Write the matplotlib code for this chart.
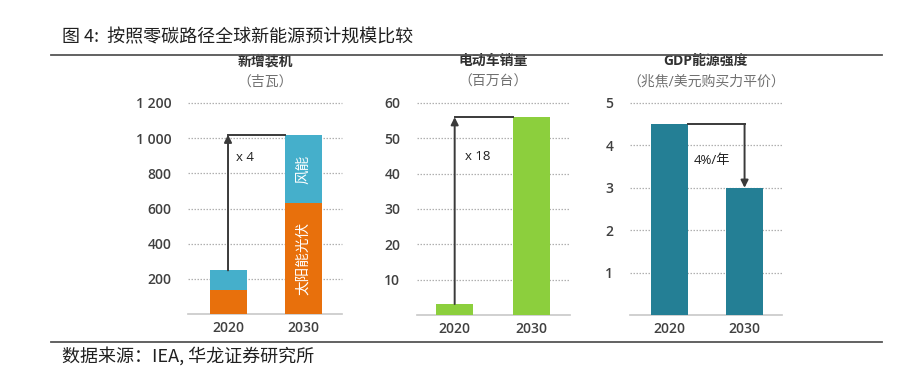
import matplotlib
matplotlib.use("Agg")
import matplotlib.pyplot as plt
from matplotlib.lines import Line2D

plt.rcParams['font.family'] = ['Open Sans', 'Noto Sans CJK SC', 'DejaVu Sans']

# data
years = ['2020', '2030']
solar = [135, 630]
wind = [113, 390]
ev_sales = [3.1, 56]
gdp_intensity = [4.5, 3.0]

cap_ticks = [200, 400, 600, 800, 1000, 1200]
cap_labels = ['200', '400', '600', '800', '1 000', '1 200']
ev_ticks = [10, 20, 30, 40, 50, 60]
gdp_ticks = [1, 2, 3, 4, 5]

ORANGE = '#E8700C'
BLUE = '#45AFCB'
GREEN = '#8CCF3D'
TEAL = '#247F95'
TXT = '#404040'
ARROW = '#3a3a3a'

W, H = 917, 372
fig = plt.figure(figsize=(W / 100, H / 100), dpi=100)


def px_axes(x0, x1, y_top, y_base):
    return fig.add_axes([x0 / W, (H - y_base) / H, (x1 - x0) / W, (y_base - y_top) / H])


def style(ax, ticks, labels, top, xlim):
    ax.set_ylim(0, top)
    ax.set_xlim(*xlim)
    for s in ax.spines.values():
        s.set_visible(False)
    for t in ticks:
        ax.axhline(t, color='#b0b0b0', lw=0.9, ls=(0, (1.2, 1.2)), zorder=0, clip_on=False)
    ax.axhline(0, color='#c8c8c8', lw=1.2, zorder=1, clip_on=False)
    ax.set_yticks(ticks)
    ax.set_yticklabels(labels)
    ax.set_xticks([0, 1])
    ax.set_xticklabels(years)
    ax.tick_params(length=0, labelsize=10, colors=TXT)
    ax.tick_params(axis='y', pad=12)
    ax.tick_params(axis='x', pad=5)
    for lab in ax.get_xticklabels() + ax.get_yticklabels():
        lab.set_fontweight('semibold')


def titles(ax, main, unit):
    ax.text(0.5, 1.0 + 42 / 211, main, transform=ax.transAxes, ha='center', va='center',
            fontsize=10, fontweight='bold', color='#303030')
    ax.text(0.5, 1.0 + 21 / 211, unit, transform=ax.transAxes, ha='center', va='center',
            fontsize=10, color='#707070')


bw = 0.49
arrow_kw = dict(arrowstyle='-|>', color=ARROW, lw=1.4, mutation_scale=11, shrinkA=0, shrinkB=0)

# panel 1: capacity additions
ax1 = px_axes(188, 342, 103, 314)
style(ax1, cap_ticks, cap_labels, 1200, (-0.53, 1.51))
ax1.bar([0, 1], solar, width=bw, color=ORANGE, zorder=2)
ax1.bar([0, 1], wind, bottom=solar, width=bw, color=BLUE, zorder=2)
tot = [s + w for s, w in zip(solar, wind)]
ax1.annotate('', xy=(0, tot[1]), xytext=(0, tot[0]), arrowprops=arrow_kw, zorder=3)
ax1.plot([0, 1 - bw / 2], [tot[1], tot[1]], color=ARROW, lw=1.4, zorder=3)
ax1.text(0.11, 890, 'x 4', fontsize=9.5, color='#202020', va='center', ha='left')
ax1.text(1, solar[1] / 2, '太阳能光伏', rotation=90, color='white', ha='center', va='center',
         fontsize=10.5)
ax1.text(1, solar[1] + wind[1] / 2, '风能', rotation=90, color='white', ha='center', va='center',
         fontsize=10.5)
titles(ax1, '新增装机', '（吉瓦）')

# panel 2: EV sales
ax2 = px_axes(417, 570, 103, 315)
style(ax2, ev_ticks, [str(t) for t in ev_ticks], 60, (-0.49, 1.5))
ax2.bar([0, 1], ev_sales, width=0.48, color=GREEN, zorder=2)
ax2.annotate('', xy=(0, ev_sales[1]), xytext=(0, ev_sales[0]), arrowprops=arrow_kw, zorder=3)
ax2.plot([0, 1 - 0.24], [ev_sales[1], ev_sales[1]], color=ARROW, lw=1.4, zorder=3)
ax2.text(0.13, 45, 'x 18', fontsize=9.5, color='#202020', va='center', ha='left')
titles(ax2, '电动车销量', '（百万台）')

# panel 3: energy intensity of GDP
ax3 = px_axes(630, 782, 103, 315)
style(ax3, gdp_ticks, [str(t) for t in gdp_ticks], 5, (-0.53, 1.5))
ax3.bar([0, 1], gdp_intensity, width=bw, color=TEAL, zorder=2)
ax3.plot([bw / 2, 1], [gdp_intensity[0], gdp_intensity[0]], color=ARROW, lw=1.4, zorder=3)
ax3.annotate('', xy=(1, gdp_intensity[1]), xytext=(1, gdp_intensity[0]), arrowprops=arrow_kw, zorder=3)
ax3.text(0.57, 3.65, '4%/年', fontsize=9.5, color='#202020', va='center', ha='center')
titles(ax3, 'GDP能源强度', '（兆焦/美元购买力平价）')

# header / footer
fig.text(62 / W, 1 - 37 / H, '图 4:  按照零碳路径全球新能源预计规模比较', fontsize=13,
         color='#202020', va='center', ha='left', family=['Noto Sans CJK SC', 'DejaVu Sans'])
fig.text(62 / W, 1 - 356 / H, '数据来源：IEA, 华龙证券研究所', fontsize=13,
         color='#202020', va='center', ha='left', family=['Noto Sans CJK SC', 'DejaVu Sans'])
fig.add_artist(Line2D([51 / W, 882 / W], [1 - 55 / H, 1 - 55 / H], color='#555555', lw=1.3))
fig.add_artist(Line2D([51 / W, 882 / W], [1 - 342 / H, 1 - 342 / H], color='#555555', lw=1.3))

fig.savefig('out.png', dpi=100)
